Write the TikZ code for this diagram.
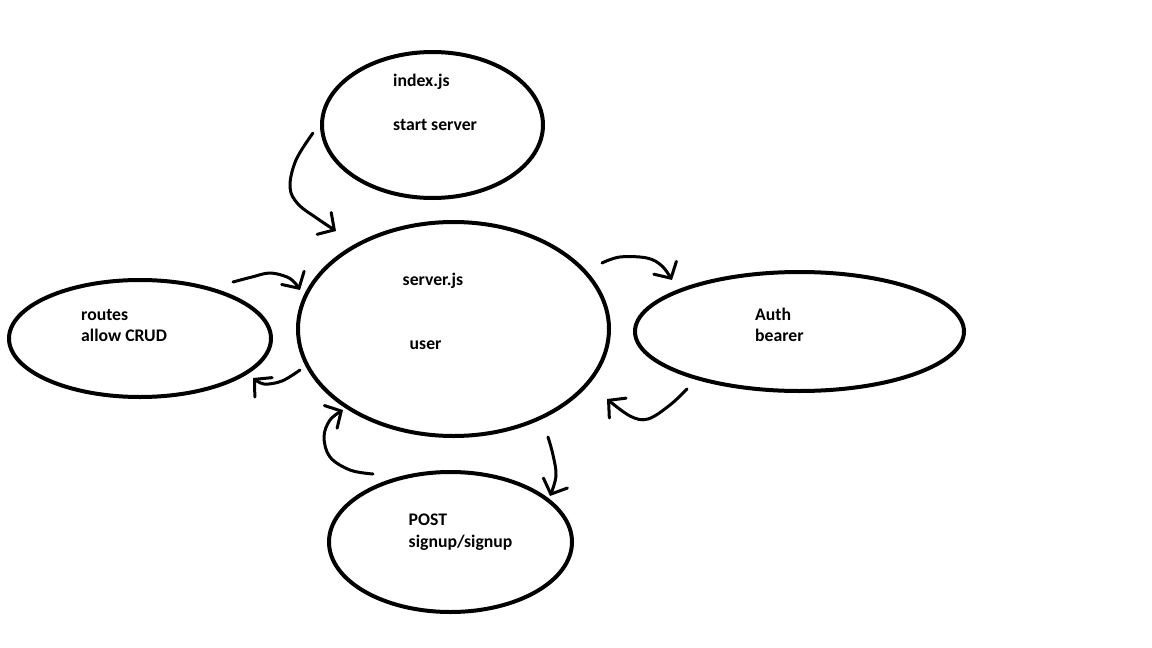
\documentclass[tikz,border=0pt]{standalone}
\usepackage{fontspec}
\setmainfont{Carlito}
\usetikzlibrary{shapes.geometric,arrows.meta}
\begin{document}
\begin{tikzpicture}[x=1pt,y=-1pt,
  ell/.style={draw=black,line width=4pt,ellipse,inner sep=0pt},
  lbl/.style={anchor=base west,inner sep=0pt,font=\fontsize{17.7}{21}\selectfont\bfseries},
  hand/.style={draw=black,line width=3pt,line cap=round,line join=round,
    -{Straight Barb[length=12pt,width=26pt,line cap=round]}}]
\useasboundingbox[fill=white] (0,0) rectangle (1152,648);
% ellipses
\node[ell,minimum width=221pt,minimum height=146pt] (idx) at (432.5,125) {};
\node[ell,minimum width=311pt,minimum height=214pt] (srv) at (453.5,329) {};
\node[ell,minimum width=262pt,minimum height=117pt] (rts) at (140,338.5) {};
\node[ell,minimum width=329pt,minimum height=119pt] (auth) at (799.5,331.5) {};
\node[ell,minimum width=243pt,minimum height=140pt] (post) at (450.5,542) {};
% texts
\node[lbl] (t1) at (393,86.5) {index.js};
\node[lbl] (t2) at (393,130) {start server};
\node[lbl] (t3) at (402.5,285) {server.js};
\node[lbl] (t4) at (409.5,349) {user};
\node[lbl] (t5) at (81,320) {routes};
\node[lbl] (t6) at (81,341.5) {allow CRUD};
\node[lbl] (t7) at (755,320) {Auth};
\node[lbl] (t8) at (755,341) {bearer};
\node[lbl] (t9) at (408.5,525) {POST};
\node[lbl] (t10) at (408.5,547.5) {signup/signup};
% connector ends
\coordinate (a1s) at (313,133); \coordinate (a1e) at (336,231);
\coordinate (a2s) at (233,282); \coordinate (a2e) at (300,290);
\coordinate (a3s) at (300,370); \coordinate (a3e) at (253,378);
\coordinate (a4s) at (602,263); \coordinate (a4e) at (672,280);
\coordinate (a5s) at (687,389); \coordinate (a5e) at (607,399);
\coordinate (a6s) at (373,474); \coordinate (a6e) at (343,410);
\coordinate (a7s) at (548,437); \coordinate (a7e) at (550,496);
% connectors
\draw[hand] plot[smooth,tension=0.6] coordinates {(a1s) (296,160) (290,187) (298,204) (318,219) (a1e)};
\draw[hand] plot[smooth,tension=0.6] coordinates {(a2s) (252,277) (270,273) (287,277) (295,283) (a2e)};
\draw[hand] plot[smooth,tension=0.6] coordinates {(a3s) (282,381) (264,384) (a3e)};
\draw[hand] plot[smooth,tension=0.6] coordinates {(a4s) (620,257) (647,258) (662,266) (a4e)};
\draw[hand] plot[smooth,tension=0.6] coordinates {(a5s) (670,405) (648,419) (630,416) (a5e)};
\draw[hand] plot[smooth,tension=0.6] coordinates {(a6s) (350,470) (330,457) (324,437) (330,420) (a6e)};
\draw[hand] plot[smooth,tension=0.6] coordinates {(a7s) (553,455) (556,476) (a7e)};
\end{tikzpicture}
\end{document}
